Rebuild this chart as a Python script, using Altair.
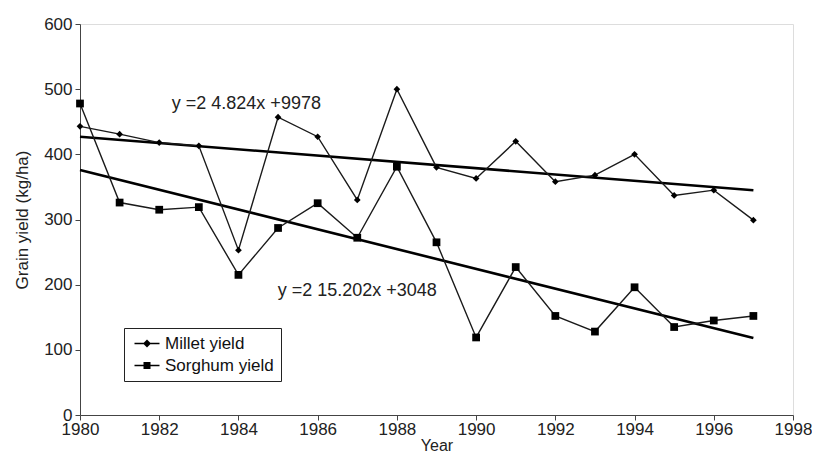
import altair as alt
import pandas as pd

years = list(range(1980, 1998))
millet = [443, 431, 418, 413, 253, 457, 427, 330, 500, 380, 363, 420, 358, 368, 400, 337, 345, 299]
sorghum = [478, 326, 315, 319, 215, 287, 325, 272, 381, 265, 119, 227, 152, 128, 196, 135, 145, 152]

trend_years = [1980, 1997]
millet_trend = [427, 345]
sorghum_trend = [376, 118]

eq_text = ["y =2 4.824x +9978", "y =2 15.202x +3048"]
eq_year = [1984.2, 1987.0]
eq_value = [477, 190]

series_names = ["Millet yield", "Sorghum yield"]

df = pd.DataFrame({
    "Year": years * 2,
    "Yield": millet + sorghum,
    "Series": [series_names[0]] * len(years) + [series_names[1]] * len(years),
})
trend = pd.DataFrame({
    "Year": trend_years * 2,
    "Yield": millet_trend + sorghum_trend,
    "Series": [series_names[0]] * 2 + [series_names[1]] * 2,
})
eqs = pd.DataFrame({"Year": eq_year, "Yield": eq_value, "Text": eq_text})

FONT = "Liberation Sans"

x = alt.X("Year:Q", scale=alt.Scale(domain=[1980, 1998], nice=False, zero=False),
          axis=alt.Axis(values=list(range(1980, 1999, 2)), format="d", title="Year",
                        grid=False, tickSize=5, labelPadding=1, titlePadding=0,
                        labelFontSize=17, titleFontSize=16, titleFontWeight="normal",
                        labelFont=FONT, titleFont=FONT, labelColor="#222", titleColor="#222",
                        domainColor="#444", tickColor="#444", labelFlush=False))
y = alt.Y("Yield:Q", scale=alt.Scale(domain=[0, 600], nice=False),
          axis=alt.Axis(values=list(range(0, 601, 100)), title="Grain yield (kg/ha)",
                        grid=False, tickSize=5, labelPadding=3, titlePadding=12,
                        labelFontSize=17, titleFontSize=17, titleFontWeight="normal",
                        labelFont=FONT, titleFont=FONT, labelColor="#222", titleColor="#222",
                        domainColor="#444", tickColor="#444"))

base = alt.Chart(df)

lines = base.mark_line(color="#1a1a1a", strokeWidth=1.4).encode(x=x, y=y, detail="Series:N")

millet_pts = base.transform_filter(alt.datum.Series == series_names[0]).mark_point(
    shape="diamond", filled=True, color="black", size=45, opacity=1).encode(x=x, y=y)
sorghum_pts = base.transform_filter(alt.datum.Series == series_names[1]).mark_point(
    shape="square", filled=True, color="black", size=60, opacity=1).encode(x=x, y=y)

trend_lines = alt.Chart(trend).mark_line(color="black", strokeWidth=2.6).encode(
    x=x, y=y, detail="Series:N")

eq_marks = alt.Chart(eqs).mark_text(font=FONT, fontSize=18, color="#222", align="center",
                                    baseline="middle").encode(x=x, y=y, text="Text:N")

diamond_sym = "M-1,-0.13L4,-0.13L4,0.13L-1,0.13ZM1.5,-0.8L2.3,0L1.5,0.8L0.7,0Z"
square_sym = "M-1,-0.13L4,-0.13L4,0.13L-1,0.13ZM0.8,-0.7L2.2,-0.7L2.2,0.7L0.8,0.7Z"

legend_layer = base.transform_filter("false").mark_point(
    filled=True, color="black", size=25, opacity=1, strokeWidth=0).encode(
    x=x, y=y,
    shape=alt.Shape("Series:N",
                    scale=alt.Scale(domain=series_names, range=[diamond_sym, square_sym]),
                    legend=alt.Legend(title=None, orient="none", legendX=44, legendY=304,
                                      labelFont=FONT, labelFontSize=17, labelColor="#111",
                                      symbolSize=100, symbolFillColor="black",
                                      symbolStrokeWidth=0,
                                      labelOffset=17, rowPadding=4, padding=7,
                                      strokeColor="#222", fillColor="white")))

chart = alt.layer(trend_lines, lines, millet_pts, sorghum_pts, eq_marks, legend_layer).properties(
    width=713, height=391,
    autosize=alt.AutoSizeParams(type="none"),
    padding={"left": 72, "top": 16, "right": 19, "bottom": 40},
).configure_view(stroke="#777", strokeWidth=1.2).configure(background="white")

chart.save("out.html", embed_options={"renderer": "svg", "actions": False})
